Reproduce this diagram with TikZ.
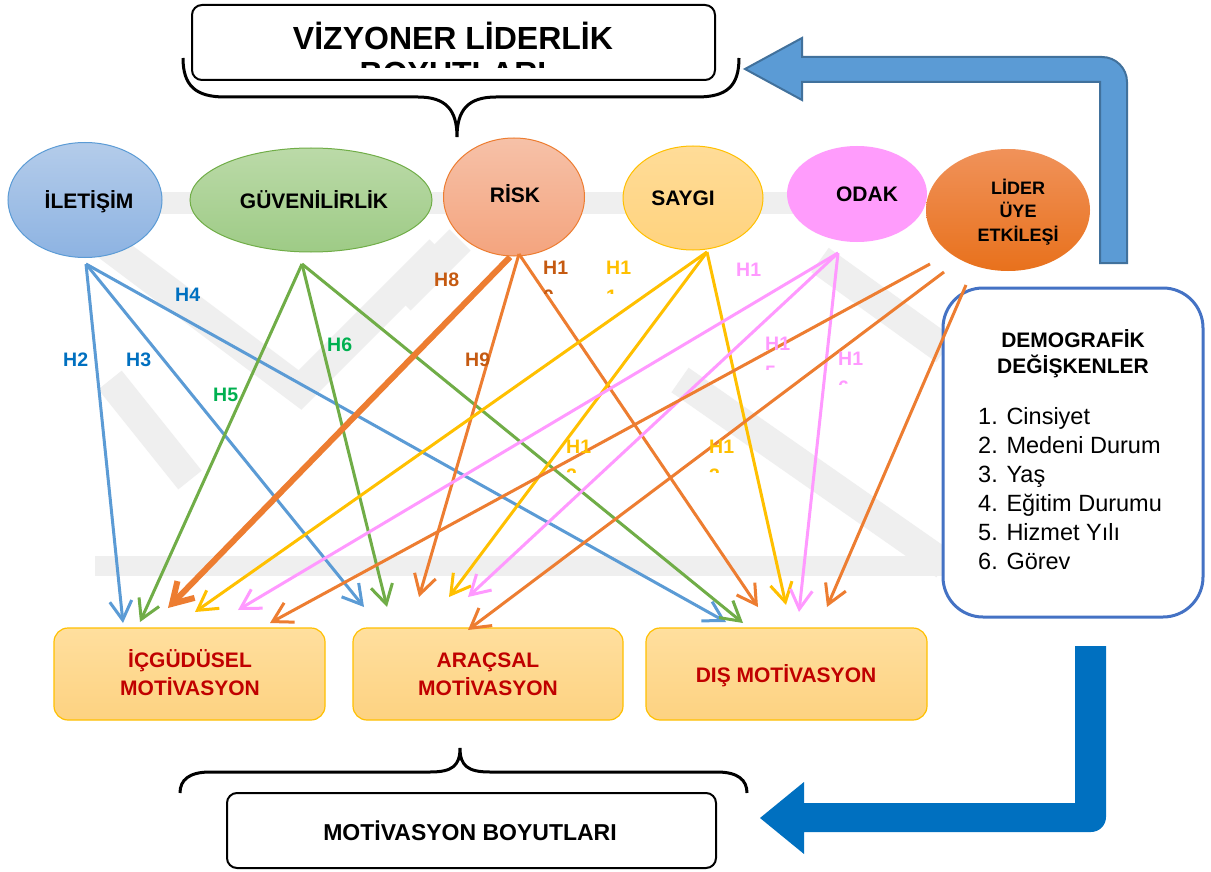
\documentclass[tikz,border=0pt]{standalone}
\usepackage{fontspec}
\setmainfont{Liberation Sans}
\usetikzlibrary{arrows.meta,shapes.geometric}
\definecolor{cBlue}{HTML}{5B9BD5}
\definecolor{cGreen}{HTML}{70AD47}
\definecolor{cOrange}{HTML}{ED7D31}
\definecolor{cYellow}{HTML}{FFC000}
\definecolor{cPink}{HTML}{FF99FF}
\definecolor{lBlue}{HTML}{0070C0}
\definecolor{lGreen}{HTML}{00B050}
\definecolor{lOrange}{HTML}{C55A11}
\definecolor{dRed}{HTML}{C00000}
\definecolor{demoBlue}{HTML}{4472C4}
\definecolor{arrTopLine}{HTML}{41719C}
\definecolor{arrBot}{HTML}{0070C0}
\definecolor{ilA}{HTML}{B4CCEA}
\definecolor{ilB}{HTML}{8DB3E2}
\definecolor{gvA}{HTML}{BBDAA8}
\definecolor{gvB}{HTML}{9ECB86}
\definecolor{rkA}{HTML}{F6C1A8}
\definecolor{rkB}{HTML}{F4A47E}
\definecolor{syA}{HTML}{FFDC98}
\definecolor{syB}{HTML}{FFD37E}
\definecolor{odF}{HTML}{FF9CFC}
\definecolor{ldA}{HTML}{F0925A}
\definecolor{ldB}{HTML}{E8711C}
\definecolor{bxA}{HTML}{FFDF9E}
\definecolor{bxB}{HTML}{FDD281}
\definecolor{wm}{HTML}{EFEFEF}
\tikzset{
  conn/.style={line width=3pt,-{Straight Barb[length=19pt,width=22pt]}},
  thickconn/.style={line width=6pt,-{Straight Barb[length=20pt,width=24pt]}},
  ell/.style={ellipse, inner sep=0pt, line width=1pt},
  elltxt/.style={font=\fontsize{21}{25}\selectfont\bfseries, anchor=base, inner sep=0pt},
  ldtxt/.style={font=\fontsize{18}{22}\selectfont\bfseries, anchor=base, inner sep=0pt},
  hl/.style={font=\fontsize{19.5}{29}\selectfont\bfseries, anchor=base west, inner sep=0pt},
  motbox/.style={draw=cYellow, line width=1.2pt, rounded corners=14pt, top color=bxA, bottom color=bxB, minimum height=92pt, inner sep=0pt},
  mottxt/.style={font=\fontsize{21}{28}\selectfont\bfseries, text=dRed, anchor=base, inner sep=0pt},
  titlebox/.style={draw=black, line width=2pt, rounded corners=10pt, fill=white, inner sep=0pt},
  brace/.style={draw=black, line width=3pt},
  demotxt/.style={font=\fontsize{21}{26}\selectfont\bfseries, anchor=base, inner sep=0pt},
  listtxt/.style={font=\fontsize{23.5}{29}\selectfont, anchor=base west, inner sep=0pt},
  wmband/.style={draw=wm, line width=30pt, line cap=butt},
}
\newcommand{\HLabClip}[5]{%
  \node[hl, text=#2] (#1) at (#3,#4) {H1};
  \begin{scope}
    \clip (#3-5,#4+5) rectangle (#3+40,#4+19);
    \node[hl, text=#2] (#1b) at (#3,#4+29) {#5};
  \end{scope}}
\begin{document}
\begin{tikzpicture}[x=1pt,y=-1pt]
\useasboundingbox (0,0) rectangle (1211,872);
\fill[white] (0,0) rectangle (1211,872);

% ---------- faint watermark ----------
\begin{scope}
  \clip (95,190) rectangle (945,578);
  \fill[wm] (158,192) rectangle (806,214);
  \fill[wm] (95,556) rectangle (945,576);
  \draw[wmband] (100,240) -- (300,390) -- (440,250);
  \draw[wmband] (110,380) -- (190,480);
  \draw[wmband] (400,300) -- (460,240);
  \draw[wmband] (680,380) -- (945,565);
  \draw[wmband] (820,260) -- (945,350);
\end{scope}

% ---------- top title box and brace ----------
\draw[brace] (183,58) .. controls (183,86) and (196,97) .. (225,97) -- (418,97)
  .. controls (446,97) and (457,110) .. (457,137)
  .. controls (457,110) and (468,97) .. (496,97) -- (697,97)
  .. controls (727,97) and (739,86) .. (739,58);
\node[titlebox, minimum width=523pt, minimum height=75pt] (vbox) at (453.5,42.5) {};
\begin{scope}
  \clip (194,7) rectangle (713,68);
  \node[font=\fontsize{32}{35}\selectfont\bfseries, anchor=base, inner sep=0pt] (vt1) at (453,50) {VİZYONER LİDERLİK};
  \node[font=\fontsize{32}{35}\selectfont\bfseries, anchor=base, inner sep=0pt] (vt2) at (453,85) {BOYUTLARI};
\end{scope}

% ---------- block arrows ----------
\filldraw[fill=cBlue, draw=arrTopLine, line width=2pt] (1127,263) -- (1127,82)
  .. controls (1127,68.2) and (1115.8,57) .. (1102,57) -- (802,57) -- (802,38) -- (745,69)
  -- (802,100) -- (802,82) -- (1100,82) -- (1100,263) -- cycle;
\fill[arrBot] (1075,646) -- (1106,646) -- (1106,817)
  .. controls (1106,825.3) and (1099.3,832) .. (1091,832) -- (804,832) -- (804,854)
  -- (760,818) -- (804,782) -- (804,803) -- (1075,803) -- cycle;

% ---------- ellipses ----------
\node[ell, draw=cBlue, top color=ilA, bottom color=ilB, minimum width=154pt, minimum height=115pt] (iletisim) at (85,200) {};
\node[ell, draw=cGreen, top color=gvA, bottom color=gvB, minimum width=242pt, minimum height=104pt] (guven) at (311,200) {};
\node[ell, draw=cOrange, top color=rkA, bottom color=rkB, minimum width=141pt, minimum height=118pt] (risk) at (514,197) {};
\node[ell, draw=cYellow, top color=syA, bottom color=syB, minimum width=140pt, minimum height=104pt] (saygi) at (693,198) {};
\node[ell, fill=odF, minimum width=140pt, minimum height=96pt] (odak) at (857,194) {};
\node[ell, top color=ldA, bottom color=ldB, minimum width=164pt, minimum height=122pt] (lider) at (1008,210) {};

\node[elltxt] (t-il) at (89,208) {İLETİŞİM};
\node[elltxt] (t-gv) at (314,208) {GÜVENİLİRLİK};
\node[elltxt] (t-rk) at (515,203) {RİSK};
\node[elltxt] (t-sy) at (683,206) {SAYGI};
\node[elltxt] (t-od) at (867,201) {ODAK};
\node[ldtxt] (t-ld1) at (1018,195) {LİDER};
\node[ldtxt] (t-ld2) at (1018,218) {ÜYE};
\node[ldtxt] (t-ld3) at (1018,241) {ETKİLEŞİ};

% ---------- motivation boxes ----------
\node[motbox, minimum width=271pt] (b-ic) at (189.5,674) {};
\node[motbox, minimum width=270pt] (b-ar) at (488,674) {};
\node[motbox, minimum width=281pt] (b-dis) at (786.5,674) {};
\node[mottxt] (t-ic1) at (190,667) {İÇGÜDÜSEL};
\node[mottxt] (t-ic2) at (190,695) {MOTİVASYON};
\node[mottxt] (t-ar1) at (488,667) {ARAÇSAL};
\node[mottxt] (t-ar2) at (488,695) {MOTİVASYON};
\node[mottxt] (t-dis) at (786,682) {DIŞ MOTİVASYON};

% ---------- demographics box ----------
\node[draw=demoBlue, line width=3pt, rounded corners=40pt, fill=white, minimum width=260pt, minimum height=329pt, inner sep=0pt] (demo) at (1073,452.5) {};
\node[demotxt] (d1) at (1073,347) {DEMOGRAFİK};
\node[demotxt] (d2) at (1073,373) {DEĞİŞKENLER};
\node[listtxt] (l1) at (978,424) {1. Cinsiyet};
\node[listtxt] (l2) at (978,453) {2. Medeni Durum};
\node[listtxt] (l3) at (978,482) {3. Yaş};
\node[listtxt] (l4) at (978,511) {4. Eğitim Durumu};
\node[listtxt] (l5) at (978,540) {5. Hizmet Yılı};
\node[listtxt] (l6) at (978,569) {6. Görev};

% ---------- bottom brace and box ----------
\draw[brace] (180,793) .. controls (180,780) and (189,772) .. (210,772) -- (430,772)
  .. controls (452,772) and (460,766) .. (460,748)
  .. controls (460,766) and (468,772) .. (490,772) -- (717,772)
  .. controls (738,772) and (747,780) .. (747,793);
\node[titlebox, minimum width=489pt, minimum height=75pt] (mbox) at (471.5,830.5) {};
\node[font=\fontsize{23}{28}\selectfont\bfseries, anchor=base, inner sep=0pt] (mt) at (470,840) {MOTİVASYON BOYUTLARI};

% ---------- connector end points ----------
\coordinate (s-il) at (86,264);
\coordinate (s-gv) at (302,264);
\coordinate (s-rk1) at (510,257);
\coordinate (s-rk) at (519,254);
\coordinate (s-sy) at (707,252);
\coordinate (s-od) at (838,253);
\coordinate (s-ld1) at (930,264);
\coordinate (s-ld2) at (944,272);
\coordinate (s-ld3) at (966,285);

\coordinate (e-h2) at (123,623);
\coordinate (e-h3) at (364,607);
\coordinate (e-h4) at (726,622);
\coordinate (e-h5) at (140,622);
\coordinate (e-h6) at (387,607);
\coordinate (e-g3) at (743,623);
\coordinate (e-r1) at (168,608);
\coordinate (e-r2) at (419,597);
\coordinate (e-r3) at (758,607);
\coordinate (e-s1) at (195,612);
\coordinate (e-s2) at (449,597);
\coordinate (e-s3) at (786,605);
\coordinate (e-o1) at (238,610);
\coordinate (e-o2) at (468,597);
\coordinate (e-o3) at (799,612);
\coordinate (e-l1) at (270,623);
\coordinate (e-l2) at (468,630);
\coordinate (e-l3) at (827,607);

% ---------- connectors ----------
\draw[conn, cBlue] (s-il) -- (e-h2);
\draw[conn, cBlue] (s-il) -- (e-h3);
\draw[conn, cBlue] (s-il) -- (e-h4);
\draw[conn, cGreen] (s-gv) -- (e-h5);
\draw[conn, cGreen] (s-gv) -- (e-h6);
\draw[conn, cGreen] (s-gv) -- (e-g3);
\draw[thickconn, cOrange] (s-rk1) -- (e-r1);
\draw[conn, cOrange] (s-rk) -- (e-r2);
\draw[conn, cOrange] (s-rk) -- (e-r3);
\draw[conn, cYellow] (s-sy) -- (e-s1);
\draw[conn, cYellow] (s-sy) -- (e-s2);
\draw[conn, cYellow] (s-sy) -- (e-s3);
\draw[conn, cPink] (s-od) -- (e-o1);
\draw[conn, cPink] (s-od) -- (e-o2);
\draw[conn, cPink] (s-od) -- (e-o3);
\draw[conn, cOrange] (s-ld1) -- (e-l1);
\draw[conn, cOrange] (s-ld2) -- (e-l2);
\draw[conn, cOrange] (s-ld3) -- (e-l3);

% ---------- hypothesis labels ----------
\node[hl, text=lBlue] (h2) at (63,366) {H2};
\node[hl, text=lBlue] (h3) at (126,366) {H3};
\node[hl, text=lBlue] (h4) at (175,301) {H4};
\node[hl, text=lGreen] (h5) at (213,401) {H5};
\node[hl, text=lGreen] (h6) at (327,351) {H6};
\node[hl, text=lOrange] (h8) at (434,286) {H8};
\node[hl, text=lOrange] (h9) at (465,366) {H9};
\HLabClip{h10}{lOrange}{543}{274}{0}
\HLabClip{h11}{cYellow}{606}{274}{1}
\HLabClip{h12}{cYellow}{566}{453}{2}
\HLabClip{h13}{cYellow}{709}{453}{3}
\node[hl, text=cPink] (h14) at (736,276) {H1};
\HLabClip{h15}{cPink}{765}{350}{5}
\HLabClip{h16}{cPink}{838}{365}{6}
\end{tikzpicture}
\end{document}
